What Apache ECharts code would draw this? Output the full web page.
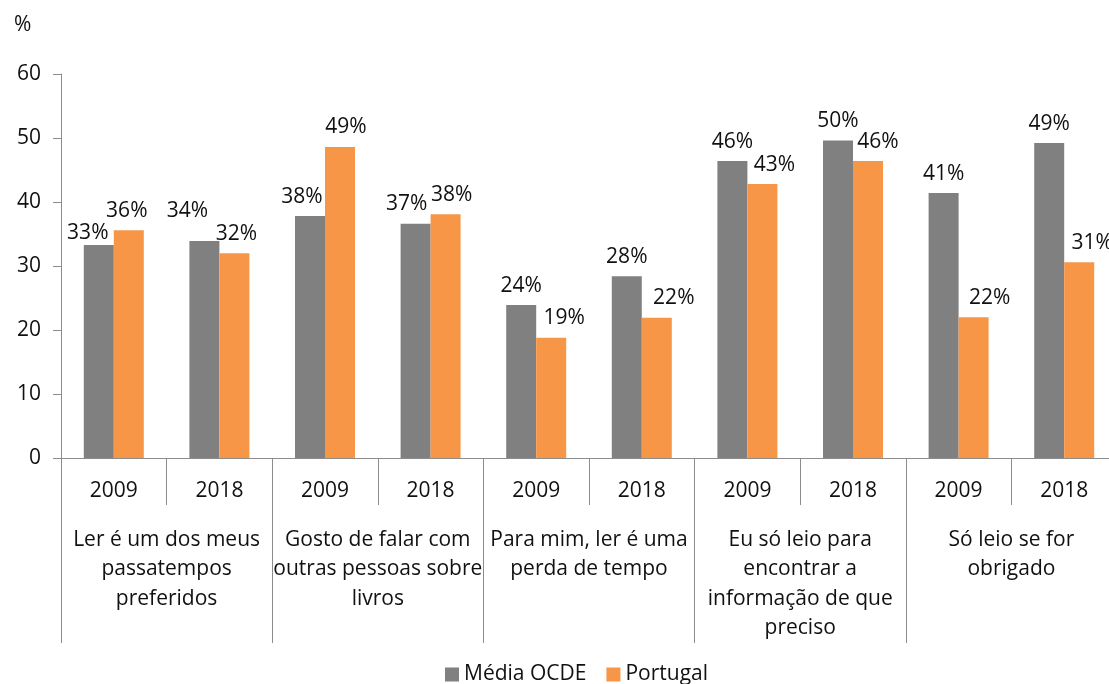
<!DOCTYPE html>
<html>
<head>
<meta charset="utf-8">
<script src="https://cdn.jsdelivr.net/npm/echarts@6/dist/echarts.min.js"></script>
<style>
  html, body { margin: 0; padding: 0; background: #fff; overflow: hidden; }
  #chart { width: 1109px; height: 684px; }
</style>
</head>
<body>
<div id="chart"></div>
<script>
// Reading attitudes, OECD average vs Portugal, 2009 and 2018 (%)
const years = ['2009', '2018', '2009', '2018', '2009', '2018', '2009', '2018', '2009', '2018'];
const statements = [
  'Ler é um dos meus\npassatempos\npreferidos',
  'Gosto de falar com\noutras pessoas sobre\nlivros',
  'Para mim, ler é uma\nperda de tempo',
  'Eu só leio para\nencontrar a\ninformação de que\npreciso',
  'Só leio se for\nobrigado'
];
const seriesNames = ['Média OCDE', 'Portugal'];
const mediaOCDE = [33.3, 33.9, 37.8, 36.6, 23.9, 28.4, 46.4, 49.6, 41.4, 49.2];
const portugal  = [35.6, 32.0, 48.6, 38.1, 18.8, 21.9, 42.8, 46.4, 22.0, 30.6];
const yTicks = { min: 0, max: 60, interval: 10 };

// label nudges [dx, dy] so value labels do not collide
const ocdeLabelShift = [[-11, 8], [-17, -11], [-8, 0], [-9, 0], [0, 0], [0, 0], [0, 0], [0, 0], [0, 0], [0, 0]];
const ptLabelShift   = [[-2, 0], [2, 0], [6, 0], [6, 0], [13, 0], [17, 0], [12, 0], [10, 0], [16, 0], [13, 0]];

const FONT = "'Open Sans', 'Noto Sans', sans-serif";
const FS = 21;
const AXIS_COLOR = '#8c8c8c';
const TEXT_COLOR = '#111';

function withLabels(values, shifts) {
  return values.map((v, i) => ({ value: v, label: { offset: shifts[i] } }));
}

const labelStyle = {
  show: true,
  position: 'top',
  distance: 9,
  color: TEXT_COLOR,
  fontFamily: FONT,
  fontSize: FS,
  formatter: p => Math.round(p.value) + '%'
};

const chart = echarts.init(document.getElementById('chart'), null, { renderer: 'canvas' });
chart.setOption({
  animation: false,
  backgroundColor: '#fff',
  textStyle: { fontFamily: FONT, color: TEXT_COLOR },
  title: {
    text: '%',
    left: 9,
    top: 10,
    textStyle: { fontFamily: FONT, fontSize: FS, fontWeight: 'normal', color: TEXT_COLOR }
  },
  legend: {
    data: seriesNames,
    left: 440,
    bottom: -6,
    icon: 'rect',
    itemWidth: 14,
    itemHeight: 14,
    itemGap: 20,
    textStyle: { fontFamily: FONT, fontSize: FS, color: TEXT_COLOR }
  },
  grid: { left: 61, right: -8, top: 74, bottom: 226, containLabel: false, outerBoundsMode: 'none' },
  xAxis: [
    {
      type: 'category',
      data: years,
      position: 'bottom',
      axisLine: { show: true, lineStyle: { color: AXIS_COLOR, width: 1 } },
      axisTick: { show: true, interval: 0, length: 47, lineStyle: { color: AXIS_COLOR } },
      axisLabel: { interval: 0, margin: 23, fontFamily: FONT, fontSize: FS, color: TEXT_COLOR }
    },
    {
      type: 'category',
      data: statements,
      position: 'bottom',
      axisLine: { show: true, lineStyle: { color: AXIS_COLOR, width: 1 } },
      axisTick: { show: true, interval: 0, length: 185, lineStyle: { color: AXIS_COLOR } },
      axisLabel: { interval: 0, margin: 67, fontFamily: FONT, fontSize: FS, lineHeight: 29.5, color: TEXT_COLOR, align: 'center' }
    }
  ],
  yAxis: {
    type: 'value',
    min: yTicks.min,
    max: yTicks.max,
    interval: yTicks.interval,
    axisLine: { show: true, lineStyle: { color: AXIS_COLOR, width: 1 } },
    axisTick: { show: true, length: 8, lineStyle: { color: AXIS_COLOR } },
    splitLine: { show: false },
    axisLabel: { margin: 20, fontFamily: FONT, fontSize: FS, color: TEXT_COLOR }
  },
  series: [
    {
      name: seriesNames[0],
      type: 'bar',
      xAxisIndex: 0,
      barWidth: 30,
      barGap: '0%',
      itemStyle: { color: '#808080' },
      label: labelStyle,
      data: withLabels(mediaOCDE, ocdeLabelShift)
    },
    {
      name: seriesNames[1],
      type: 'bar',
      xAxisIndex: 0,
      barWidth: 30,
      barGap: '0%',
      itemStyle: { color: '#F79646' },
      label: labelStyle,
      data: withLabels(portugal, ptLabelShift)
    }
  ]
});
</script>
</body>
</html>
